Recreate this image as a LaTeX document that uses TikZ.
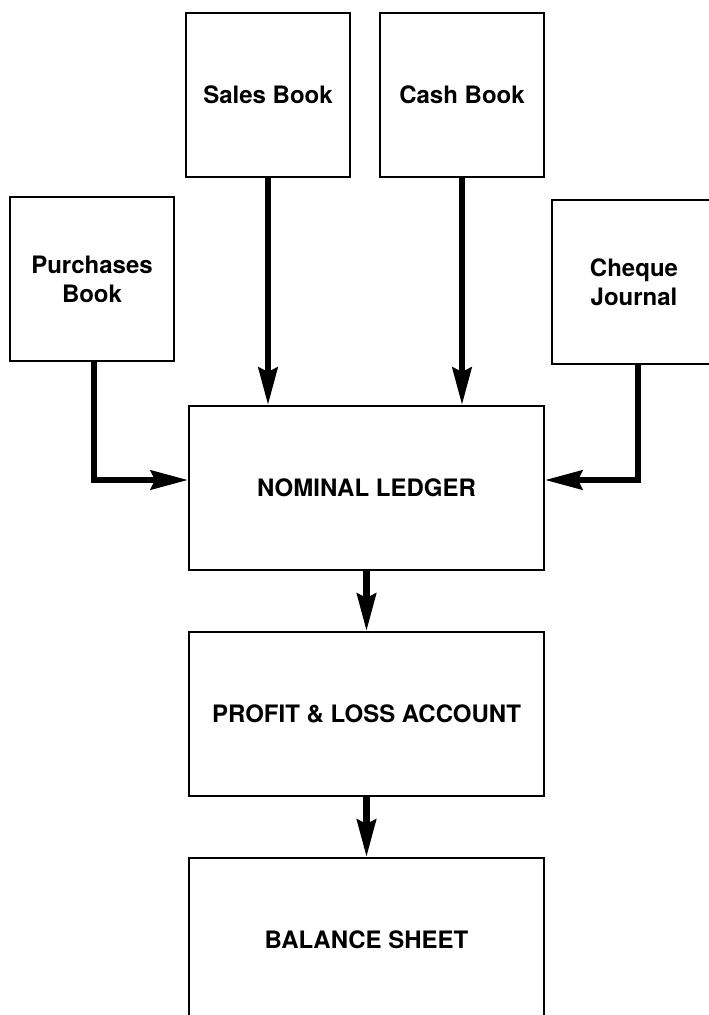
\documentclass[tikz,border=0pt]{standalone}
\usepackage{fontspec}
\setmainfont{TeX Gyre Heros}
\usetikzlibrary{arrows.meta,calc}
\tikzset{
>={Stealth[length=28pt,width=14pt,inset=3pt]},
libro/.style={draw,line width=1.1pt,minimum width=123pt,minimum height=123pt,align=center,inner sep=1pt},
conto/.style={libro,minimum width=266pt},
freccia/.style={->,line width=5.2pt}}

\begin{document}
\begin{tikzpicture}[x=0.75pt,y=-0.75pt,font=\fontsize{18}{21.75}\selectfont\bfseries]
\useasboundingbox (0,0) rectangle (709,1015);

\node[libro] (sales) at (268,95) {Sales Book};
\node[libro] (cash) at (462,95) {Cash Book};
\node[libro] (purchases) at (92,279) {Purchases\\Book};
\node[libro] (cheque) at (634,282) {Cheque\\Journal};
\node[conto] (nominal) at (366.5,488) {NOMINAL LEDGER};
\node[conto] (pl) at (366.5,714) {PROFIT \& LOSS ACCOUNT};
\node[conto] (balance) at (366.5,940) {BALANCE SHEET};

\draw[freccia] (sales.south) -- (sales.south |- nominal.north);
\draw[freccia] (cash.south) -- (cash.south |- nominal.north);
\draw[freccia] ([xshift=1.5pt]purchases.south) |- ([yshift=6pt]nominal.west);
\draw[freccia] ([xshift=3pt]cheque.south) |- ([yshift=6pt]nominal.east);
\draw[freccia] (nominal) -- (pl);
\draw[freccia] (pl) -- (balance);

\end{tikzpicture}
\end{document}
